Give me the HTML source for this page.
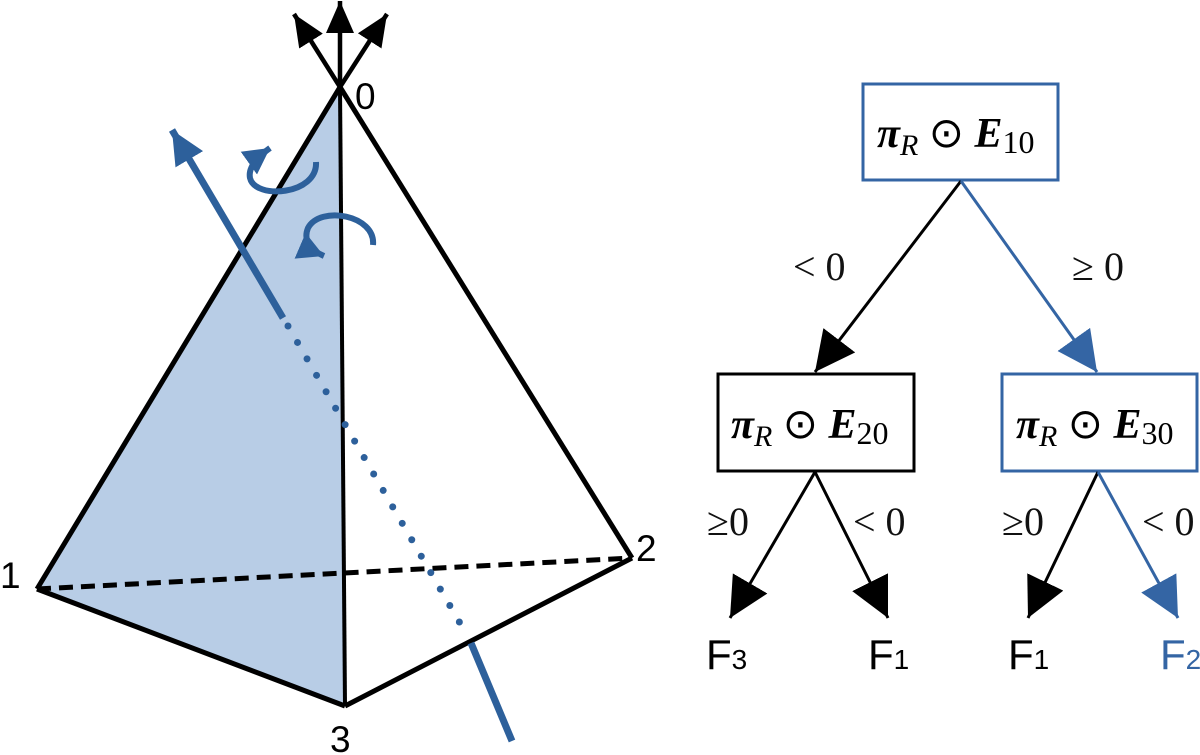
<!DOCTYPE html>
<html><head><meta charset="utf-8"><style>
html,body{margin:0;padding:0;background:#fff;}
svg{display:block;}
.m{font-family:"Liberation Serif",serif;}
.s{font-family:"Liberation Sans",sans-serif;}
</style></head><body>
<svg width="1200" height="755" viewBox="0 0 1200 755" xmlns="http://www.w3.org/2000/svg">
<defs>
<marker id="ab" markerUnits="userSpaceOnUse" markerWidth="50" markerHeight="50" refX="40" refY="20" orient="auto"><path d="M0,0 L40,20 L0,40 Z" fill="#000"/></marker>
<marker id="au" markerUnits="userSpaceOnUse" markerWidth="50" markerHeight="50" refX="40" refY="20" orient="auto"><path d="M0,0 L40,20 L0,40 Z" fill="#3465a4"/></marker>
<marker id="ak" markerUnits="userSpaceOnUse" markerWidth="40" markerHeight="40" refX="32" refY="14" orient="auto"><path d="M0,0 L32,14 L0,28 Z" fill="#000"/></marker>
<marker id="ax" markerUnits="userSpaceOnUse" markerWidth="40" markerHeight="40" refX="34" refY="16" orient="auto"><path d="M0,0 L34,16 L0,32 Z" fill="#2d609b"/></marker>
<marker id="ar" markerUnits="userSpaceOnUse" markerWidth="40" markerHeight="40" refX="26" refY="14" orient="auto"><path d="M0,0 L26,14 L0,28 Z" fill="#2d609b"/></marker>
</defs>
<polygon points="340,87 37,589 345,706" fill="#b8cde6"/>
<g stroke="#000" stroke-width="5" fill="none" stroke-linejoin="round">
<line x1="37" y1="589" x2="632" y2="558" stroke-dasharray="14,8"/>
<line x1="340" y1="87" x2="37" y2="589"/>
<line x1="340" y1="87" x2="345" y2="706" stroke-width="4"/>
<line x1="340" y1="87" x2="632" y2="558"/>
<line x1="37" y1="589" x2="345" y2="706"/>
<line x1="345" y1="706" x2="632" y2="558"/>
</g>
<g stroke="#000" stroke-width="4.5">
<line x1="340" y1="87" x2="340" y2="1" marker-end="url(#ak)"/>
<line x1="340" y1="87" x2="294" y2="14" marker-end="url(#ak)"/>
<line x1="340" y1="87" x2="387" y2="14" marker-end="url(#ak)"/>
</g>
<g stroke="#2d609b" fill="none">
<line x1="283" y1="318" x2="172" y2="130" stroke-width="7" marker-end="url(#ax)"/>
<line x1="288" y1="326" x2="464" y2="630" stroke-width="7" stroke-dasharray="0,19" stroke-linecap="round"/>
<line x1="471" y1="643" x2="512" y2="741" stroke-width="7"/>
<path d="M316,162 C318,195 255,200 250,178 C248,168 256,158 270,148" stroke-width="6" marker-end="url(#ar)"/>
<path d="M373,245 C376,215 320,205 308,228 C303,240 310,250 324,256" stroke-width="6" marker-end="url(#ar)"/>
</g>
<g class="s" font-size="37">
<text x="355" y="109">0</text>
<text x="0" y="588">1</text>
<text x="636" y="561">2</text>
<text x="330" y="752">3</text>
</g>
<rect x="863" y="84" width="195" height="96" fill="none" stroke="#3465a4" stroke-width="3"/>
<rect x="718" y="374" width="196" height="97" fill="none" stroke="#000" stroke-width="3"/>
<rect x="1002" y="374" width="195" height="97" fill="none" stroke="#3465a4" stroke-width="3"/>
<g class="m" font-size="42">
<text x="877" y="147"><tspan font-weight="bold" font-style="italic">π</tspan><tspan font-style="italic" font-size="30" dy="8">R</tspan><tspan dy="-8"> ⊙ </tspan><tspan font-weight="bold" font-style="italic">E</tspan><tspan font-size="32" dy="6">10</tspan></text>
<text x="731" y="438"><tspan font-weight="bold" font-style="italic">π</tspan><tspan font-style="italic" font-size="30" dy="8">R</tspan><tspan dy="-8"> ⊙ </tspan><tspan font-weight="bold" font-style="italic">E</tspan><tspan font-size="32" dy="6">20</tspan></text>
<text x="1016" y="438"><tspan font-weight="bold" font-style="italic">π</tspan><tspan font-style="italic" font-size="30" dy="8">R</tspan><tspan dy="-8"> ⊙ </tspan><tspan font-weight="bold" font-style="italic">E</tspan><tspan font-size="32" dy="6">30</tspan></text>
</g>
<line x1="961" y1="181" x2="815" y2="372" stroke="#000" stroke-width="3" marker-end="url(#ab)"/>
<line x1="961" y1="181" x2="1097" y2="372" stroke="#3465a4" stroke-width="3" marker-end="url(#au)"/>
<line x1="815" y1="472" x2="730" y2="618" stroke="#000" stroke-width="3" marker-end="url(#ab)"/>
<line x1="815" y1="472" x2="888" y2="618" stroke="#000" stroke-width="3" marker-end="url(#ab)"/>
<line x1="1098" y1="472" x2="1028" y2="618" stroke="#000" stroke-width="3" marker-end="url(#ab)"/>
<line x1="1098" y1="472" x2="1178" y2="618" stroke="#3465a4" stroke-width="3" marker-end="url(#au)"/>
<g class="m" font-size="40" fill="#111">
<text x="793" y="280">&lt; 0</text>
<text x="1072" y="280">≥ 0</text>
<text x="707" y="535">≥0</text>
<text x="853" y="535">&lt; 0</text>
<text x="1002" y="535">≥0</text>
<text x="1142" y="535">&lt; 0</text>
</g>
<g class="s" font-size="42">
<text x="706" y="669">F<tspan font-size="28">3</tspan></text>
<text x="868" y="669">F<tspan font-size="28">1</tspan></text>
<text x="1008" y="669">F<tspan font-size="28">1</tspan></text>
<text x="1160" y="669" fill="#3465a4">F<tspan font-size="28">2</tspan></text>
</g>
</svg>
</body></html>
